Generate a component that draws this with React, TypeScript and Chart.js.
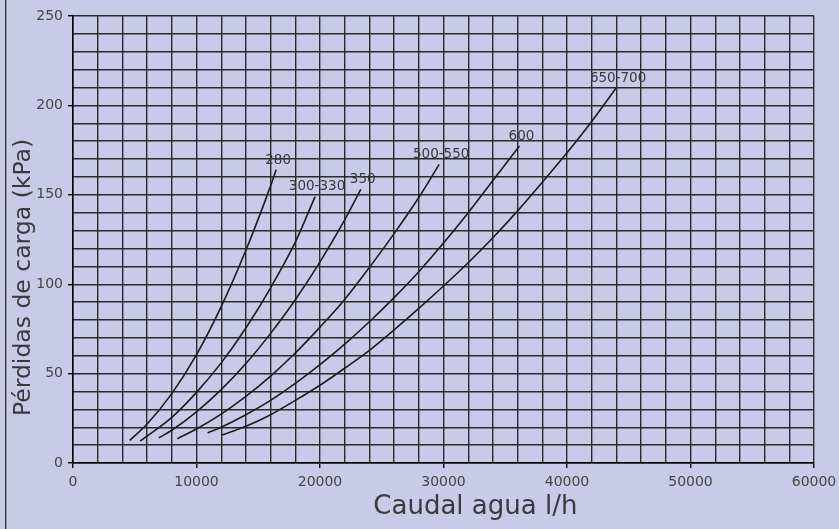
import { useEffect, useRef } from "react";
import { Chart, registerables } from "chart.js";

Chart.register(...registerables);

// Water-side pressure loss curves per unit size
const seriesNames = ["280", "300-330", "350", "500-550", "600", "650-700"];

const flow280 = [4600, 6000, 8000, 10000, 12000, 14000, 16000, 16450];
const loss280 = [12.7, 21.8, 38.8, 60.6, 87.5, 119, 155, 164];

const flow300 = [5450, 6000, 8000, 10000, 12000, 14000, 16000, 18000, 19600];
const loss300 = [12.3, 15, 25.5, 39.5, 56, 75.5, 98, 123.5, 149];

const flow350 = [6950, 8000, 10000, 12000, 14000, 16000, 18000, 20000, 22000, 23300];
const loss350 = [14.1, 18.3, 28.6, 41, 55.6, 72.5, 91.3, 112.5, 136, 153];

const flow500 = [8450, 10000, 12000, 14000, 16000, 18000, 20000, 22000, 24000, 26000, 28000, 29650];
const loss500 = [13.6, 19, 27.3, 37.2, 48.6, 61.5, 76, 91.5, 109.4, 128.3, 148.5, 167];

const flow600 = [10900, 12000, 14000, 16000, 18000, 20000, 22000, 24000, 26000, 28000, 30000, 32000, 34000, 36150];
const loss600 = [16.8, 20, 27, 35, 44.5, 55, 66.5, 79, 92.5, 107, 123, 140, 158, 177.3];

const flow650 = [12050, 14000, 16000, 18000, 20000, 22000, 24000, 26000, 28000, 30000, 32000, 34000, 36000, 38000, 40000, 42000, 43975];
const loss650 = [15.6, 20.5, 27, 35, 43.5, 53, 63, 74.5, 86.5, 99, 112, 126, 141, 157, 173.5, 191, 209.7];

const flows = [flow280, flow300, flow350, flow500, flow600, flow650];
const losses = [loss280, loss300, loss350, loss500, loss600, loss650];

const xTitle = "Caudal agua l/h";
const yTitle = "Pérdidas de carga (kPa)";

const X_MIN = 0;
const X_MAX = 60000;
const X_STEP = 2000;
const X_LABEL_STEP = 10000;
const Y_MIN = 0;
const Y_MAX = 250;
const Y_STEP = 10;
const Y_LABEL_STEP = 50;

const FONT = "'DejaVu Sans', sans-serif";
const BG = "#c8cae8";
const INK = "#1c1c1c";
const GRID = "#2b2b2b";
const TEXT = "#454545";

// Writes the size name just above the end of each curve
const curveLabels = {
  id: "curveLabels",
  afterDatasetsDraw(chart: any) {
    const ctx = chart.ctx;
    ctx.save();
    ctx.font = `13.5px ${FONT}`;
    ctx.fillStyle = "#3a3a3a";
    ctx.textAlign = "center";
    ctx.textBaseline = "bottom";
    chart.data.datasets.forEach((ds: any, i: number) => {
      const meta = chart.getDatasetMeta(i);
      const last = meta.data[meta.data.length - 1];
      if (!last) return;
      ctx.fillText(ds.label, last.x + 2, last.y - 3);
    });
    ctx.restore();
  },
};

// Axis titles and the frame line on the left edge
const decorations = {
  id: "decorations",
  afterDraw(chart: any) {
    const ctx = chart.ctx;
    const area = chart.chartArea;
    ctx.save();
    ctx.fillStyle = "#333";
    ctx.fillRect(5, 0, 1.3, chart.height);

    ctx.fillStyle = "#3a3a3a";
    ctx.font = `26px ${FONT}`;
    ctx.textAlign = "center";
    ctx.textBaseline = "middle";
    ctx.fillText(xTitle, area.left + (area.right - area.left) * 0.543, 507);

    ctx.translate(24, area.top + (area.bottom - area.top) * 0.585);
    ctx.rotate(-Math.PI / 2);
    ctx.font = `23.5px ${FONT}`;
    ctx.fillText(yTitle, 0, 0);
    ctx.restore();
  },
};

export default function App() {
  const canvasRef = useRef<HTMLCanvasElement | null>(null);

  useEffect(() => {
    document.body.style.margin = "0";
    const canvas = canvasRef.current;
    if (!canvas) return;

    const datasets = seriesNames.map((name, i) => ({
      label: name,
      data: flows[i].map((x, j) => ({ x, y: losses[i][j] })),
      borderColor: INK,
      borderWidth: 1.6,
      pointRadius: 0,
      fill: false,
      cubicInterpolationMode: "monotone" as const,
    }));

    const chart = new Chart(canvas, {
      type: "line",
      data: { datasets },
      plugins: [curveLabels, decorations],
      options: {
        animation: false,
        responsive: true,
        maintainAspectRatio: false,
        layout: { padding: { left: 0, right: 25, top: 16, bottom: 0 } },
        plugins: {
          legend: { display: false },
          tooltip: { enabled: false },
        },
        scales: {
          x: {
            type: "linear",
            min: X_MIN,
            max: X_MAX,
            ticks: {
              stepSize: X_STEP,
              autoSkip: false,
              maxRotation: 0,
              padding: 6,
              color: TEXT,
              font: { family: FONT, size: 14 },
              callback: (v: any) => (Number(v) % X_LABEL_STEP === 0 ? String(v) : ""),
            },
            grid: {
              color: GRID,
              lineWidth: 1.4,
              tickLength: 5,
              tickColor: (c: any) =>
                c.tick && c.tick.value % X_LABEL_STEP === 0 ? "#000" : "rgba(0,0,0,0)",
            },
            border: { color: "#000", width: 1.5 },
            afterFit: (s: any) => {
              s.height = 66;
              s.paddingLeft = 0;
              s.paddingRight = 0;
            },
          },
          y: {
            type: "linear",
            min: Y_MIN,
            max: Y_MAX,
            ticks: {
              stepSize: Y_STEP,
              autoSkip: false,
              padding: 5,
              color: TEXT,
              font: { family: FONT, size: 14 },
              callback: (v: any) => (Number(v) % Y_LABEL_STEP === 0 ? String(v) : ""),
            },
            grid: {
              color: GRID,
              lineWidth: 1.4,
              tickLength: 5,
              tickColor: (c: any) =>
                c.tick && c.tick.value % Y_LABEL_STEP === 0 ? "#000" : "rgba(0,0,0,0)",
            },
            border: { color: "#000", width: 1.5 },
            afterFit: (s: any) => {
              s.width = 73;
              s.paddingTop = 0;
              s.paddingBottom = 0;
            },
          },
        },
      },
    });

    return () => {
      chart.destroy();
    };
  }, []);

  return (
    <div style={{ width: 839, height: 529, background: BG, position: "relative" }}>
      <canvas ref={canvasRef} />
    </div>
  );
}
